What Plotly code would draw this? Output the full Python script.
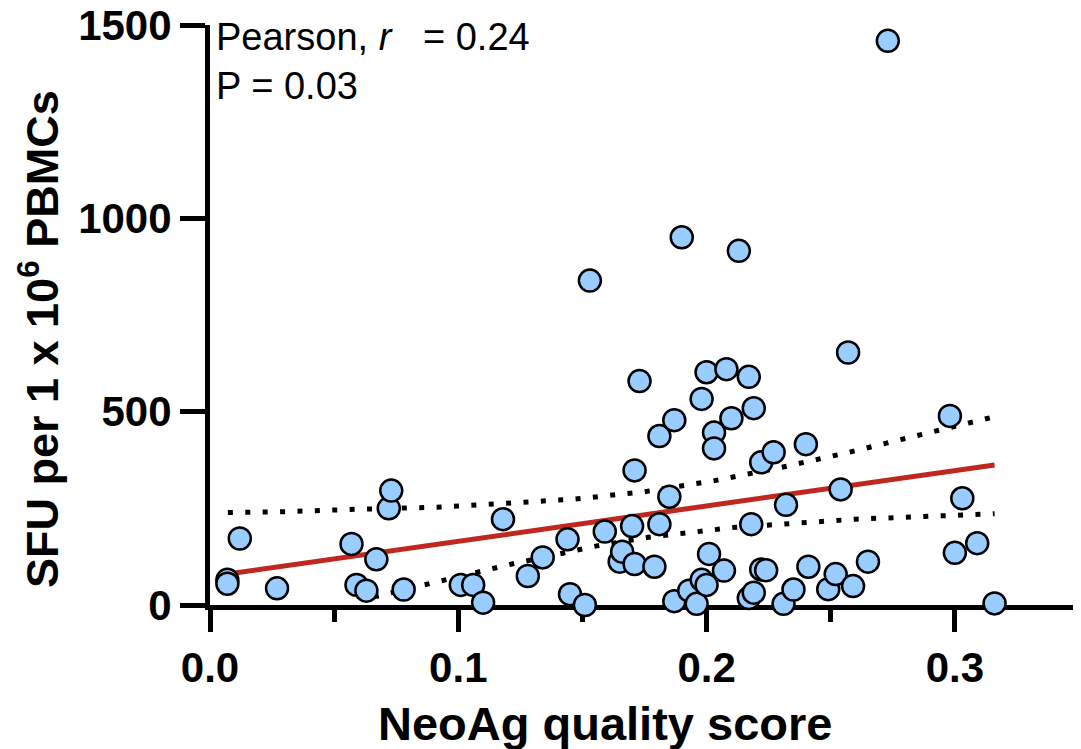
import plotly.graph_objects as go

# NeoAg quality score (x) and SFU per 1e6 PBMCs (y)
neoag_score = [0.007, 0.007, 0.012, 0.027, 0.057, 0.059, 0.063, 0.067, 0.072, 0.073,
               0.078, 0.101, 0.106, 0.110, 0.118, 0.128, 0.134, 0.144, 0.145, 0.151,
               0.153, 0.159, 0.165, 0.166, 0.170, 0.171, 0.171, 0.173, 0.179, 0.181,
               0.181, 0.185, 0.187, 0.187, 0.190, 0.193, 0.196, 0.198, 0.198, 0.200,
               0.200, 0.201, 0.203, 0.203, 0.207, 0.208, 0.210, 0.213, 0.217, 0.217,
               0.218, 0.219, 0.219, 0.222, 0.222, 0.224, 0.227, 0.231, 0.232, 0.235,
               0.240, 0.241, 0.249, 0.252, 0.254, 0.257, 0.259, 0.265, 0.273, 0.298,
               0.300, 0.303, 0.309, 0.316]
sfu = [65, 55, 172, 43, 158, 52, 37, 118, 250, 296,
       40, 52, 52, 6, 222, 75, 123, 170, 28, 0,
       839, 190, 112, 138, 204, 348, 106, 579, 99, 437,
       209, 280, 478, 10, 951, 37, 3, 533, 65, 52,
       602, 132, 446, 405, 89, 610, 483, 916, 590, 18,
       209, 32, 509, 369, 92, 90, 395, 3, 259, 40,
       416, 99, 41, 80, 299, 653, 49, 112, 1459, 489,
       135, 276, 160, 4]

# Regression line and 95% confidence bands
fit_x = [0.007, 0.316]
fit_y = [80, 362]
upper_x = [0.0072, 0.0282, 0.0563, 0.0913, 0.1193, 0.1471, 0.175, 0.2027, 0.2302, 0.2574, 0.2847, 0.312, 0.316]
upper_y = [239, 241, 247, 253, 263, 274, 293, 321, 356, 395, 438, 481, 487]
lower_x = [0.066, 0.0731, 0.0876, 0.108, 0.1216, 0.1421, 0.1558, 0.1766, 0.2115, 0.2601, 0.3093, 0.316]
lower_y = [21, 32, 56, 86, 106, 134, 153, 175, 201, 222, 234, 236]

x_ticks = [0.0, 0.1, 0.2, 0.3]
x_ticktext = ["0.0", "0.1", "0.2", "0.3"]
x_minor = [0.05, 0.15, 0.25, 0.35]
y_ticks = [0, 500, 1000, 1500]

x_title = "NeoAg quality score"
y_title = "SFU per 1 x 10<sup>6</sup> PBMCs"
stats_text = "Pearson, <i>r</i>\u00a0\u00a0 = 0.24<br>P = 0.03"

dot_line = dict(color="black", width=5, dash="5px,12.4px")

fig = go.Figure()
fig.add_trace(go.Scatter(x=upper_x, y=upper_y, mode="lines", line=dot_line, hoverinfo="skip"))
fig.add_trace(go.Scatter(x=lower_x, y=lower_y, mode="lines", line=dot_line, hoverinfo="skip"))
fig.add_trace(go.Scatter(x=fit_x, y=fit_y, mode="lines",
                         line=dict(color="#C0281F", width=5)))
fig.add_trace(go.Scatter(x=neoag_score, y=sfu, mode="markers", cliponaxis=False,
                         marker=dict(size=22, color="#99CCFF",
                                     line=dict(color="black", width=2.5))))

font_fam = "Liberation Sans, Arial"
tick_font = dict(family=font_fam, size=42, color="black", weight="bold")

# the page body adds an 8px offset, so the figure is 8px smaller than the window
fig.update_layout(
    width=1073, height=741,
    margin=dict(l=202, r=2, t=17, b=144, autoexpand=False),
    paper_bgcolor="white", plot_bgcolor="white",
    showlegend=False,
    xaxis=dict(range=[0, 0.35], tickvals=x_ticks, ticktext=x_ticktext,
               ticks="outside", ticklen=22, tickwidth=5, tickcolor="black",
               showline=True, linewidth=5, linecolor="black",
               showgrid=False, zeroline=False, layer="below traces",
               automargin=False, tickfont=tick_font, ticklabeloverflow="allow",
               minor=dict(tickvals=x_minor, ticks="outside", ticklen=12,
                          tickwidth=5, tickcolor="black", showgrid=False)),
    yaxis=dict(range=[0, 1500], tickvals=y_ticks,
               ticks="outside", ticklen=25, tickwidth=5, tickcolor="black",
               showline=True, linewidth=5, linecolor="black",
               showgrid=False, zeroline=False, layer="below traces",
               automargin=False, tickfont=tick_font, ticklabeloverflow="allow"),
    annotations=[
        dict(x=0, y=1.0, xref="paper", yref="paper", xanchor="left", yanchor="top",
             xshift=4, yshift=11, align="left", showarrow=False, text=stats_text,
             font=dict(family=font_fam, size=38, color="black")),
        dict(x=(605 - 210) / 869, y=(605 - 723) / 580, xref="paper", yref="paper",
             xanchor="center", yanchor="middle", showarrow=False, text=x_title,
             font=dict(family=font_fam, size=47, color="black", weight="bold")),
        dict(x=0, y=(605 - 339) / 580, xref="paper", yref="paper",
             xanchor="center", yanchor="middle", xshift=-171, textangle=-90,
             showarrow=False, text=y_title,
             font=dict(family=font_fam, size=45, color="black", weight="bold")),
    ],
)

fig.write_html("out.html")
